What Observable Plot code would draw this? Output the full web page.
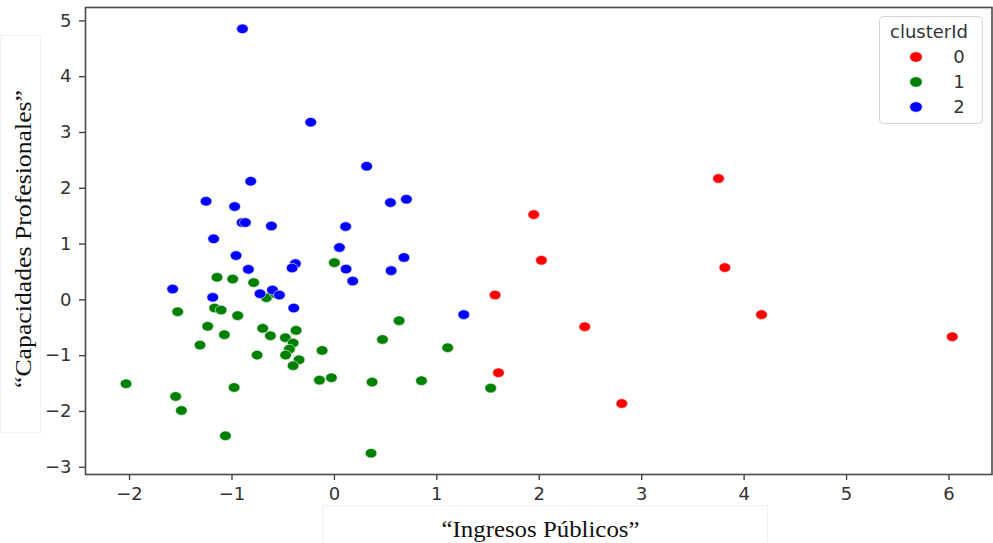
<!DOCTYPE html>
<html>
<head>
<meta charset="utf-8">
<script src="https://cdn.jsdelivr.net/npm/d3@7"></script>
<script src="https://cdn.jsdelivr.net/npm/@observablehq/plot@0.6"></script>
<style>
  html, body { margin: 0; padding: 0; background: #fff; }
  #wrap { position: relative; width: 993px; height: 543px; overflow: hidden; }
  #wrap svg { display: block; }
  .overlay { position: absolute; left: 0; top: 0; pointer-events: none; }
</style>
</head>
<body>
<div id="wrap"></div>
<script>
// ---- data ----
const clusterIds = ["0", "1", "2"];
const clusterColors = ["#ff0000", "#008000", "#0000ff"];

const cluster0X = [3.75, 1.946, 2.021, 3.812, 1.569, 4.170, 2.444, 6.032, 1.602, 2.806];
const cluster0Y = [2.174, 1.528, 0.709, 0.578, 0.086, -0.265, -0.481, -0.660, -1.306, -1.857];

const cluster1X = [0.0, -1.146, -0.993, -0.788, -0.664, -0.576, -1.530, -1.169, -1.106, -0.944,
  -1.237, -1.074, -1.312, -0.700, -0.625, -0.374, -0.479, -0.403, -0.439, -0.476,
  -0.345, -0.403, -0.755, -0.120, 0.632, 0.469, 1.106, -2.034, -0.979, -0.146,
  -0.029, 0.368, 0.850, -1.550, -1.494, -1.064, 0.358, 1.526];
const cluster1Y = [0.667, 0.404, 0.373, 0.309, 0.039, 0.111, -0.212, -0.147, -0.183, -0.283,
  -0.475, -0.624, -0.811, -0.511, -0.642, -0.547, -0.678, -0.775, -0.883, -0.990,
  -1.073, -1.180, -0.990, -0.906, -0.373, -0.709, -0.857, -1.503, -1.570, -1.439,
  -1.396, -1.474, -1.449, -1.731, -1.982, -2.436, -2.748, -1.582];

const cluster2X = [-0.898, -0.231, 0.315, -0.817, -1.253, -0.974, -0.901, -0.869, -0.615, 0.110,
  0.547, 0.703, -1.179, 0.049, -0.960, 0.679, -0.840, -0.381, -0.413, 0.114,
  0.554, 0.179, -1.579, -1.188, -0.726, -0.605, -0.537, -0.397, 1.263];
const cluster2Y = [4.857, 3.184, 2.395, 2.126, 1.767, 1.672, 1.385, 1.385, 1.324, 1.313,
  1.743, 1.803, 1.094, 0.938, 0.793, 0.759, 0.547, 0.649, 0.570, 0.552,
  0.524, 0.337, 0.194, 0.045, 0.111, 0.176, 0.086, -0.147, -0.265];

const xTicks = [-2, -1, 0, 1, 2, 3, 4, 5, 6];
const yTicks = [-3, -2, -1, 0, 1, 2, 3, 4, 5];
const xTitle = "\u201cIngresos P\u00fablicos\u201d";
const yTitle = "\u201cCapacidades Profesionales\u201d";
const legendTitle = "clusterId";

// ---- build table (green first, then blue, then red) ----
const points = [];
const addCluster = (id, xs, ys) => xs.forEach((x, i) => points.push({ cluster: id, x, y: ys[i] }));
addCluster("1", cluster1X, cluster1Y);
addCluster("2", cluster2X, cluster2Y);
addCluster("0", cluster0X, cluster0Y);

// slightly wide marker like the reference
const ellipse = {
  draw(ctx, size) {
    const r = Math.sqrt(size / Math.PI);
    const rx = r * 1.12, ry = r * 0.92, k = 0.5523;
    ctx.moveTo(rx, 0);
    ctx.bezierCurveTo(rx, ry * k, rx * k, ry, 0, ry);
    ctx.bezierCurveTo(-rx * k, ry, -rx, ry * k, -rx, 0);
    ctx.bezierCurveTo(-rx, -ry * k, -rx * k, -ry, 0, -ry);
    ctx.bezierCurveTo(rx * k, -ry, rx, -ry * k, rx, 0);
    ctx.closePath();
  }
};

const fmt = d => (d < 0 ? "\u2212" + Math.abs(d) : String(d));

const chart = Plot.plot({
  width: 993,
  height: 543,
  marginLeft: 85,
  marginRight: 1.5,
  marginTop: 7,
  marginBottom: 69,
  style: { fontFamily: "DejaVu Sans", fontSize: "18px", color: "#333", background: "white", overflow: "visible" },
  x: { domain: [-2.43, 6.42] },
  y: { domain: [-3.13, 5.24] },
  color: { domain: clusterIds, range: clusterColors },
  marks: [
    Plot.axisX({ ticks: xTicks, tickFormat: fmt, tickSize: 6, tickPadding: 7, label: null, stroke: "#444", strokeWidth: 1.4, fill: "#333" }),
    Plot.axisY({ ticks: yTicks, tickFormat: fmt, tickSize: 6, tickPadding: 8, label: null, stroke: "#444", strokeWidth: 1.4, fill: "#333" }),
    Plot.dot(points, {
      x: "x", y: "y", fill: "cluster", r: 5.2, symbol: ellipse,
      stroke: "white", strokeWidth: 0.6
    }),
    Plot.frame({ stroke: "#4a4a4a", strokeWidth: 1.6 })
  ]
});
document.getElementById("wrap").appendChild(chart);

// ---- axis titles (serif, as in the reference) ----
const ov = d3.select("#wrap").append("svg")
  .attr("class", "overlay").attr("width", 993).attr("height", 543);

ov.append("rect").attr("x", 0.5).attr("y", 35.5).attr("width", 40).attr("height", 397)
  .attr("fill", "none").attr("stroke", "#f2f2f2");
ov.append("rect").attr("x", 322.5).attr("y", 505.5).attr("width", 445).attr("height", 40)
  .attr("fill", "none").attr("stroke", "#f2f2f2");

ov.append("text")
  .attr("transform", "translate(31,239) rotate(-90)")
  .attr("text-anchor", "middle")
  .attr("font-family", "'Liberation Serif'")
  .attr("font-size", 24)
  .attr("fill", "#111")
  .attr("textLength", 298)
  .attr("lengthAdjust", "spacingAndGlyphs")
  .text(yTitle);

ov.append("text")
  .attr("x", 540.5).attr("y", 537)
  .attr("text-anchor", "middle")
  .attr("font-family", "'Liberation Serif'")
  .attr("font-size", 23)
  .attr("fill", "#111")
  .attr("textLength", 198)
  .attr("lengthAdjust", "spacingAndGlyphs")
  .text(xTitle);

// ---- legend ----
const lg = ov.append("g");
lg.append("rect").attr("x", 879.5).attr("y", 16.5).attr("width", 103).attr("height", 107)
  .attr("rx", 4).attr("fill", "white").attr("fill-opacity", 0.85).attr("stroke", "#d4d4d4");
lg.append("text").attr("x", 929).attr("y", 38).attr("text-anchor", "middle")
  .attr("font-family", "DejaVu Sans").attr("font-size", 18).attr("fill", "#333").text(legendTitle);
const sym = d3.symbol().type(ellipse).size(Math.PI * 5.6 * 5.6);
clusterIds.forEach((id, i) => {
  const cy = 57 + i * 25;
  lg.append("path").attr("d", sym()).attr("transform", `translate(916,${cy})`)
    .attr("fill", clusterColors[i]).attr("stroke", "white").attr("stroke-width", 0.6);
  lg.append("text").attr("x", 959).attr("y", cy).attr("dy", "0.36em").attr("text-anchor", "middle")
    .attr("font-family", "DejaVu Sans").attr("font-size", 18).attr("fill", "#333").text(id);
});
</script>
</body>
</html>
